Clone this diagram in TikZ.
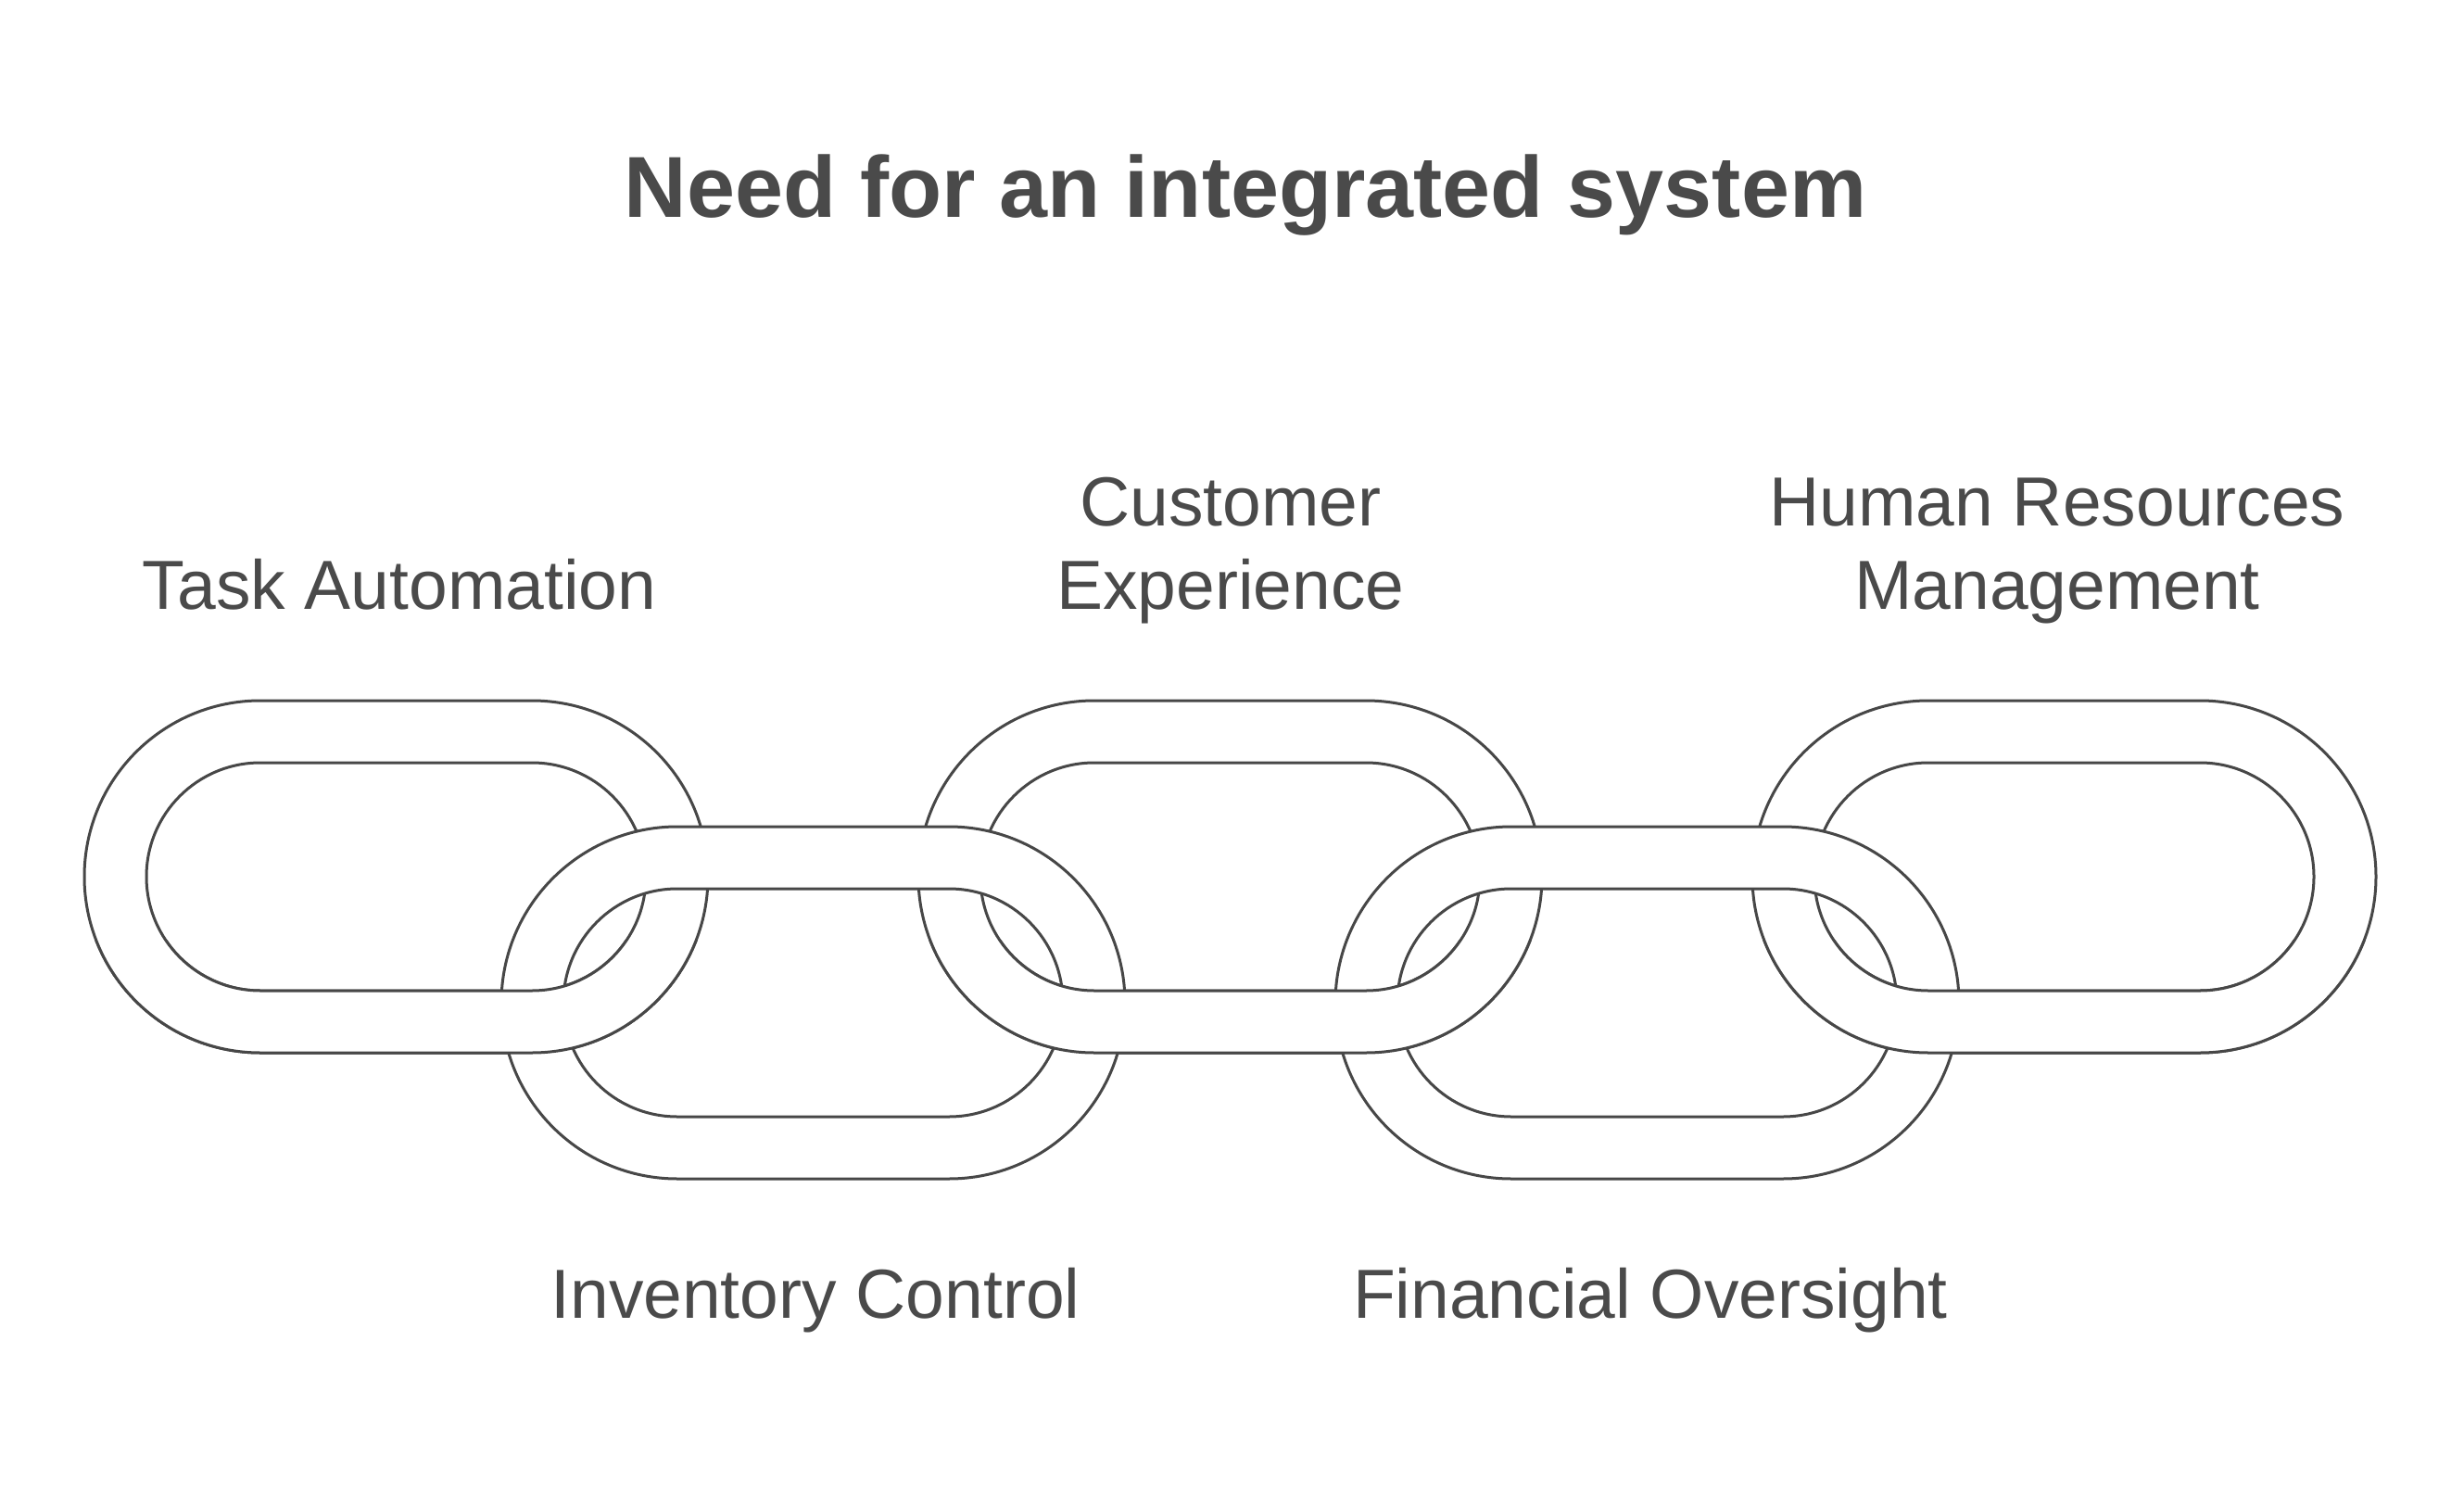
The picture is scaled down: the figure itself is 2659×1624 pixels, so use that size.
\documentclass[tikz,border=0pt]{standalone}
\usepackage{fontspec}
\setmainfont{Liberation Sans}
\definecolor{ink}{HTML}{474747}
\definecolor{txt}{HTML}{4A4A4A}
\newcommand\chainlink[2]{%
  \path[linkring] [rounded corners=190pt] (#1-190,#2-190) rectangle (#1+293+190,#2+190)
    [rounded corners=123pt] (#1-123,#2-123) rectangle (#1+293+123,#2+123);}
\begin{document}
\begin{tikzpicture}[x=1pt,y=-1pt,
  linkring/.style={draw=ink,line width=3pt,fill=white,even odd rule},
  lbl/.style={text=txt,inner sep=0pt,anchor=base,align=center,font=\fontsize{75}{90}\selectfont},
  ttl/.style={text=txt,inner sep=0pt,anchor=base,font=\fontsize{93.5}{110}\selectfont\bfseries}]
\useasboundingbox[fill=white] (0,0) rectangle (2659,1624);
\node[ttl] (title) at (1344,235) {Need for an integrated system};
% upper links
\chainlink{281}{946}
\chainlink{1181}{946}
\chainlink{2081}{946}
% lower links
\chainlink{731}{1082}
\chainlink{1631}{1082}
% upper links' bottom bands over lower links
\begin{scope}
  \clip (0,1014) rectangle (2659,1300);
  \chainlink{281}{946}
  \chainlink{1181}{946}
  \chainlink{2081}{946}
\end{scope}
\node[lbl] (t1) at (431,657) {Task Automation};
\node[lbl] (t3) at (1328,657) {Customer\\Experience};
\node[lbl] (t5) at (2220,657) {Human Resources\\Management};
\node[lbl] (t2) at (880,1422) {Inventory Control};
\node[lbl] (t4) at (1781,1422) {Financial Oversight};
\end{tikzpicture}
\end{document}
